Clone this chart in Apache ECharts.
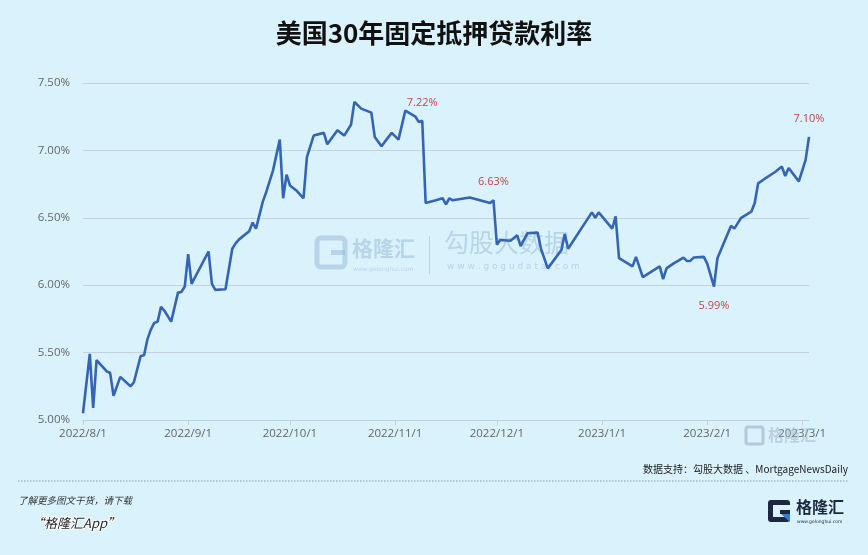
<!DOCTYPE html>
<html>
<head>
<meta charset="utf-8">
<script src="https://cdn.jsdelivr.net/npm/echarts@6/dist/echarts.min.js"></script>
<style>
html,body{margin:0;padding:0;background:#daf2fc;}
#c{width:868px;height:555px;}
</style>
</head>
<body>
<div id="c"></div>
<script>
const titleText = '美国30年固定抵押贷款利率';
const sourceText = '数据支持：勾股大数据 、MortgageNewsDaily';
const xTickLabels = ['2022/8/1','2022/9/1','2022/10/1','2022/11/1','2022/12/1','2023/1/1','2023/2/1','2023/3/1'];
const yTicks = [5.0, 5.5, 6.0, 6.5, 7.0, 7.5];

const dates = [
 '2022-08-01','2022-08-03','2022-08-04','2022-08-05','2022-08-08','2022-08-09','2022-08-10','2022-08-12',
 '2022-08-15','2022-08-16','2022-08-18','2022-08-19','2022-08-20','2022-08-21','2022-08-22','2022-08-23',
 '2022-08-24','2022-08-25','2022-08-27','2022-08-29','2022-08-30','2022-08-31',
 '2022-09-01','2022-09-02','2022-09-07','2022-09-08','2022-09-09','2022-09-12','2022-09-14','2022-09-15',
 '2022-09-16','2022-09-19','2022-09-20','2022-09-21','2022-09-23','2022-09-24','2022-09-26','2022-09-28',
 '2022-09-29','2022-09-30',
 '2022-10-01','2022-10-03','2022-10-05','2022-10-06','2022-10-08','2022-10-11','2022-10-12','2022-10-15',
 '2022-10-17','2022-10-19','2022-10-20','2022-10-22','2022-10-25','2022-10-26','2022-10-28','2022-10-29',
 '2022-10-31',
 '2022-11-02','2022-11-04','2022-11-07','2022-11-08','2022-11-09','2022-11-10','2022-11-13','2022-11-15',
 '2022-11-16','2022-11-17','2022-11-18','2022-11-23','2022-11-29','2022-11-30',
 '2022-12-01','2022-12-02','2022-12-05','2022-12-07','2022-12-08','2022-12-10','2022-12-13','2022-12-14',
 '2022-12-16','2022-12-20','2022-12-21','2022-12-22','2022-12-29','2022-12-30','2022-12-31',
 '2023-01-04','2023-01-05','2023-01-06','2023-01-10','2023-01-11','2023-01-13','2023-01-18','2023-01-19',
 '2023-01-20','2023-01-22','2023-01-25','2023-01-26','2023-01-27','2023-01-28','2023-01-31',
 '2023-02-01','2023-02-03','2023-02-04','2023-02-05','2023-02-08','2023-02-09','2023-02-11','2023-02-14',
 '2023-02-15','2023-02-16','2023-02-18','2023-02-21','2023-02-23','2023-02-24','2023-02-25','2023-02-28',
 '2023-03-02','2023-03-03'
];
const rates = [
 5.05,5.49,5.09,5.445,5.36,5.35,5.18,5.32,
 5.25,5.28,5.475,5.48,5.60,5.67,5.72,5.73,
 5.84,5.81,5.73,5.945,5.95,5.99,
 6.23,6.01,6.25,6.01,5.965,5.97,6.27,6.31,
 6.34,6.40,6.465,6.42,6.62,6.69,6.85,7.08,
 6.645,6.82,
 6.74,6.70,6.645,6.95,7.11,7.13,7.045,7.15,
 7.11,7.19,7.36,7.31,7.28,7.10,7.03,7.065,
 7.13,
 7.08,7.295,7.25,7.21,7.22,6.61,6.63,6.645,
 6.60,6.645,6.63,6.65,6.61,6.63,
 6.30,6.335,6.33,6.37,6.29,6.385,6.39,6.27,
 6.125,6.26,6.38,6.27,6.54,6.50,6.54,
 6.42,6.51,6.20,6.14,6.21,6.06,6.14,6.045,
 6.125,6.16,6.205,6.18,6.18,6.205,6.21,
 6.16,5.99,6.20,6.26,6.44,6.42,6.50,6.545,
 6.61,6.755,6.79,6.84,6.88,6.81,6.87,6.77,
 6.93,7.10
];
const annotationDates = ['2022-11-09','2022-11-30','2023-02-03','2023-03-03'];

function toTs(s){ const p = s.split(/[-\/]/).map(Number); return Date.UTC(p[0], p[1]-1, p[2]); }
function fmtTs(v){ const d = new Date(v); return d.getUTCFullYear()+'/'+(d.getUTCMonth()+1)+'/'+d.getUTCDate(); }
const seriesData = dates.map((d,i)=>[toTs(d), rates[i]]);
const tickTs = xTickLabels.map(toTs);
function isLocalMin(i){ return i > 0 && i < rates.length-1 && rates[i] < rates[i-1] && rates[i] < rates[i+1]; }

const chart = echarts.init(document.getElementById('c'), null, {renderer:'canvas'});
const wmColor = 'rgba(140,175,210,0.45)';
const option = {
  backgroundColor: '#daf2fc',
  animation: false,
  title: {
    text: titleText, left: 'center', top: 15,
    textStyle: {fontFamily: 'Noto Sans CJK SC', fontSize: 26, fontWeight: 'bold', color: '#111'}
  },
  grid: {left: 83, right: 59, top: 83, bottom: 135, containLabel: false},
  xAxis: {
    type: 'value',
    min: toTs('2022-08-01'), max: toTs('2023-03-03'),
    axisLine: {show: true, onZero: false, lineStyle: {color: '#c3ced6', width: 1}},
    axisTick: {show: true, customValues: tickTs, length: 5, lineStyle: {color: '#c3ced6'}},
    splitLine: {show: false},
    axisLabel: {
      customValues: tickTs, hideOverlap: false, showMinLabel: true, showMaxLabel: true,
      color: '#666', fontSize: 11.5, fontFamily: 'Open Sans', margin: 8,
      formatter: fmtTs
    }
  },
  yAxis: {
    type: 'value', min: yTicks[0], max: yTicks[yTicks.length-1], interval: 0.5,
    axisLine: {show: false}, axisTick: {show: false},
    splitLine: {lineStyle: {color: '#c5d2da', width: 1}},
    axisLabel: {color: '#666', fontSize: 11.5, fontFamily: 'Open Sans', margin: 13,
      formatter: v => v.toFixed(2) + '%'}
  },
  series: [{
    type: 'line', data: seriesData, showSymbol: false, smooth: false,
    lineStyle: {color: '#3464b4', width: 2.6}, itemStyle: {color: '#3464b4'},
    z: 5,
    markPoint: {
      symbol: 'circle', symbolSize: 1, itemStyle: {color: 'rgba(0,0,0,0)'},
      data: annotationDates.map(d => {
        const i = dates.indexOf(d), v = rates[i];
        return {coord: [toTs(d), v], value: v,
          label: {show: true, position: 'inside', offset: [0, isLocalMin(i) ? 19 : -18],
            formatter: v.toFixed(2) + '%', color: '#c0474a', fontSize: 11, fontFamily: 'Open Sans'}};
      })
    }
  }],
  graphic: [
    {type:'rect', shape:{x:317,y:238,width:28,height:29,r:4}, style:{fill:'none', stroke:wmColor, lineWidth:5}, z:1},
    {type:'rect', shape:{x:331,y:250,width:14,height:5}, style:{fill:wmColor}, z:1},
    {type:'text', left:352, top:238, style:{text:'格隆汇', fill:wmColor, font:'bold 21px "Noto Sans CJK SC"'}, z:1},
    {type:'text', left:353, top:266, style:{text:'www.gelonghui.com', fill:wmColor, font:'6px "DejaVu Sans"'}, z:1},
    {type:'rect', shape:{x:429,y:236,width:1,height:38}, style:{fill:wmColor}, z:1},
    {type:'text', left:444, top:230, style:{text:'勾股大数据', fill:wmColor, font:'25px "Noto Sans CJK SC"'}, z:1},
    {type:'text', left:447, top:262, style:{text:'w w w . g o g u d a t a . c o m', fill:wmColor, font:'9px "DejaVu Sans"'}, z:1},
    {type:'rect', shape:{x:746,y:427,width:17,height:17,r:2}, style:{fill:'none', stroke:'rgba(150,170,190,0.55)', lineWidth:3}, z:10},
    {type:'text', left:768, top:427, style:{text:'格隆汇', fill:'rgba(160,180,200,0.55)', font:'bold 16px "Noto Sans CJK SC"'}, z:10},
    {type:'text', right:20, top:464, style:{text:sourceText, fill:'#222', font:'10px "Noto Sans CJK SC"'}},
    {type:'line', shape:{x1:18,y1:481,x2:848,y2:481}, style:{stroke:'#8a9aa4', lineWidth:1, lineDash:[1.5,1.5]}},
    {type:'text', left:18, top:496, style:{text:'了解更多图文干货，请下载', fill:'#333', font:'italic 9.5px "Noto Sans CJK SC"'}},
    {type:'text', left:30, top:516, style:{text:'“格隆汇App”', fill:'#222', font:'italic 13px "Noto Sans CJK SC"', stroke:'#ffffff', lineWidth:2}},
    {type:'rect', shape:{x:768,y:500,width:22,height:22,r:3}, style:{fill:'#1c2740'}},
    {type:'rect', shape:{x:773,y:505,width:17,height:12}, style:{fill:'#daf2fc'}},
    {type:'rect', shape:{x:780,y:510,width:10,height:4}, style:{fill:'#1c2740'}},
    {type:'polygon', shape:{points:[[781,514],[790,514],[790,522]]}, style:{fill:'#2f7fd6'}},
    {type:'text', left:796, top:499, style:{text:'格隆汇', fill:'#1c2740', font:'bold 16px "Noto Sans CJK SC"'}},
    {type:'text', left:797, top:519, style:{text:'www.gelonghui.com', fill:'#1c2740', font:'4.5px "DejaVu Sans"'}}
  ]
};
chart.setOption(option);
</script>
</body>
</html>
